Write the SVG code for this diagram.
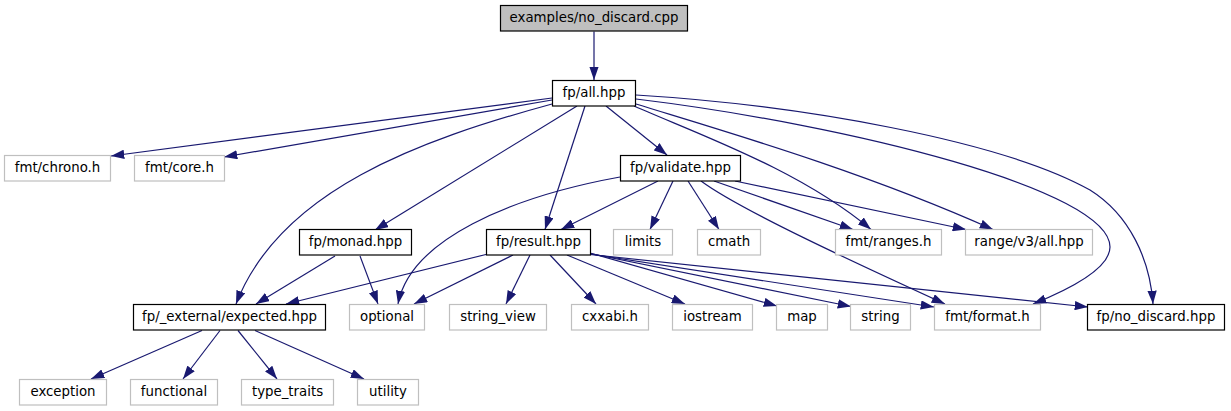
<svg xmlns="http://www.w3.org/2000/svg" width="1231" height="411" viewBox="0 0 1231 411">
<style>
.n rect{fill:#fff;stroke:#000;stroke-width:1.2}
.x rect{fill:#fff;stroke:#bfbfbf;stroke-width:1.2}
.r rect{fill:#bfbfbf;stroke:#000;stroke-width:1.2}
text{font-family:"DejaVu Sans","Liberation Sans",sans-serif;font-size:13.33px;fill:#000;text-anchor:middle}
#edges path{fill:none;stroke:#191970;stroke-width:1.2;marker-end:url(#arr)}
</style>
<defs>
<marker id="arr" viewBox="0 0 13.3 9.3" refX="13.3" refY="4.65" markerWidth="13.3" markerHeight="9.3" markerUnits="userSpaceOnUse" orient="auto">
<path d="M0,0 L13.3,4.65 L0,9.3 z" fill="#191970"/>
</marker>
</defs>
<rect width="1231" height="411" fill="#fff"/>
<g id="edges">
<path d="M594,31.5 L594,80"/>
<path d="M552,98 L111,156"/>
<path d="M552,100 L224,157"/>
<path d="M552,104 C420,140 280,190 236,304"/>
<path d="M577,106 L375,230"/>
<path d="M585,106 L545,229.5"/>
<path d="M606,106 L667,155"/>
<path d="M634,106 C700,135 800,170 871,229.5"/>
<path d="M636,104 C720,130 860,170 993,229.5"/>
<path d="M636,99 C850,125 1110,190 1110,247 C1110,265 1080,285 1033,304"/>
<path d="M636,95 C800,105 1000,140 1090,190 C1130,215 1150,260 1153,304"/>
<path d="M658,181 L561,229.5"/>
<path d="M620,177 C510,197 410,240 398,304"/>
<path d="M673,181 L650,229.5"/>
<path d="M688,181 L719,229.5"/>
<path d="M714,181 L853,229.5"/>
<path d="M735,181 L966,229.5"/>
<path d="M701,181 C740,210 860,265 945,304"/>
<path d="M488,254 L286,304"/>
<path d="M513,255 L414,304"/>
<path d="M530,255 L506,304"/>
<path d="M550,255 L596,304"/>
<path d="M567,255 L685,304"/>
<path d="M590,253 L777,306"/>
<path d="M590,253.5 L851,306.5"/>
<path d="M590,254 L934,307"/>
<path d="M590,254.5 L1088,307"/>
<path d="M335,256 L256,304"/>
<path d="M360,256 L378,304"/>
<path d="M202,330.5 L91,379"/>
<path d="M220,330.5 L183,379"/>
<path d="M238,330.5 L277,379"/>
<path d="M255,330.5 L364,379"/>
</g>
<g id="node_root" class="r"><rect x="500.5" y="5.5" width="187" height="25.5"/><text x="594" y="22">examples/no_discard.cpp</text></g>
<g id="node_all" class="n"><rect x="552.5" y="80.5" width="83" height="25.5"/><text x="594" y="97">fp/all.hpp</text></g>
<g id="node_chrono" class="x"><rect x="4.5" y="155.5" width="106" height="25.5"/><text x="57.5" y="172">fmt/chrono.h</text></g>
<g id="node_core" class="x"><rect x="134.5" y="155.5" width="90" height="25.5"/><text x="179.5" y="172">fmt/core.h</text></g>
<g id="node_validate" class="n"><rect x="620.5" y="155.5" width="120" height="25.5"/><text x="680.5" y="172">fp/validate.hpp</text></g>
<g id="node_monad" class="n"><rect x="299.5" y="229.5" width="112" height="25.5"/><text x="355.5" y="246">fp/monad.hpp</text></g>
<g id="node_result" class="n"><rect x="486.5" y="229.5" width="104" height="25.5"/><text x="538.5" y="246">fp/result.hpp</text></g>
<g id="node_limits" class="x"><rect x="613.5" y="229.5" width="59" height="25.5"/><text x="643" y="246">limits</text></g>
<g id="node_cmath" class="x"><rect x="697.5" y="229.5" width="63" height="25.5"/><text x="729" y="246">cmath</text></g>
<g id="node_ranges" class="x"><rect x="835.5" y="229.5" width="106" height="25.5"/><text x="888.5" y="246">fmt/ranges.h</text></g>
<g id="node_rangev3" class="x"><rect x="965.5" y="229.5" width="127" height="25.5"/><text x="1029" y="246">range/v3/all.hpp</text></g>
<g id="node_expected" class="n"><rect x="133.5" y="304.5" width="192" height="25.5"/><text x="229.5" y="321">fp/_external/expected.hpp</text></g>
<g id="node_optional" class="x"><rect x="349.5" y="304.5" width="75" height="25.5"/><text x="387" y="321">optional</text></g>
<g id="node_string_view" class="x"><rect x="449.5" y="304.5" width="97" height="25.5"/><text x="498" y="321">string_view</text></g>
<g id="node_cxxabi" class="x"><rect x="571.5" y="304.5" width="77" height="25.5"/><text x="610" y="321">cxxabi.h</text></g>
<g id="node_iostream" class="x"><rect x="672.5" y="304.5" width="80" height="25.5"/><text x="712.5" y="321">iostream</text></g>
<g id="node_map" class="x"><rect x="776.5" y="304.5" width="51" height="25.5"/><text x="802" y="321">map</text></g>
<g id="node_string" class="x"><rect x="850.5" y="304.5" width="60" height="25.5"/><text x="880.5" y="321">string</text></g>
<g id="node_format" class="x"><rect x="934.5" y="304.5" width="106" height="25.5"/><text x="987.5" y="321">fmt/format.h</text></g>
<g id="node_no_discard" class="n"><rect x="1087.5" y="304.5" width="137" height="25.5"/><text x="1156" y="321">fp/no_discard.hpp</text></g>
<g id="node_exception" class="x"><rect x="19.5" y="379.5" width="87" height="25.5"/><text x="63" y="396">exception</text></g>
<g id="node_functional" class="x"><rect x="130.5" y="379.5" width="87" height="25.5"/><text x="174" y="396">functional</text></g>
<g id="node_type_traits" class="x"><rect x="241.5" y="379.5" width="92" height="25.5"/><text x="287.5" y="396">type_traits</text></g>
<g id="node_utility" class="x"><rect x="357.5" y="379.5" width="61" height="25.5"/><text x="388" y="396">utility</text></g>
</svg>
